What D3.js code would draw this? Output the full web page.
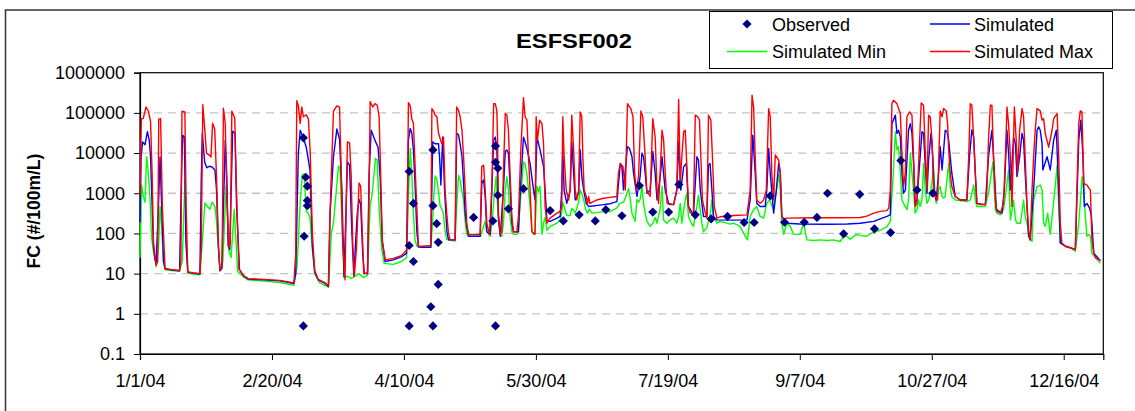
<!DOCTYPE html>
<html><head><meta charset="utf-8">
<script src="https://cdn.jsdelivr.net/npm/d3@7"></script>
<style>
body{margin:0;background:#fff}
svg{display:block}
text{font-family:"Liberation Sans",Arial,sans-serif;fill:#000}
</style>
</head><body>
<svg id="chart" width="1135" height="411"></svg>
<script>
const chartTitle = "ESFSF002";
const yAxisTitle = "FC (#/100m/L)";
const xTickLabels = ["1/1/04","2/20/04","4/10/04","5/30/04","7/19/04","9/7/04","10/27/04","12/16/04"];
const yTickValues = [0.1,1,10,100,1000,10000,100000,1000000];
const yTickLabels = ["0.1","1","10","100","1000","10000","100000","1000000"];
const seriesNames = ["Observed","Simulated","Simulated Min","Simulated Max"];

// [day of 2004 (0 = 1/1/04), FC value]
const observed = [[61.9,24000],[62.8,2500],[63.4,1500],[63.4,660],[63.4,490],[62.2,85],[61.9,0.5],
[102,3500],[102,50],[102,0.5],[103.6,560],[103.6,20],[111,12000],[111,490],[112.4,175],[113,60],[113,5.4],[110.2,1.5],[111,0.5],
[126.4,250],[133.7,205],[134.7,15000],[134.7,5900],[135.6,4200],[135.6,890],[134.7,0.5],[139.6,410],[145.3,1300],[155.4,370],
[160.4,205],[166.4,290],[172.5,205],[176.5,390],[182.6,275],[189.2,1550],[194.3,340],[200.3,340],[204.2,1650],[210.4,290],
[216.4,230],[222.6,265],[228.9,187],[232.7,187],[238.8,860],[244.2,190],[251.7,190],[256.5,250],[260.5,1000],[266.6,98],
[272.7,940],[278.3,130],[284.4,105],[288.3,6500],[294.4,1200],[300.4,1000]];

const simMax = [[0,900],[0.5,72000],[1.2,72000],[2.3,140000],[3.2,110000],[4,60000],[4.6,3000],[5.1,60],[6.1,16],[6.7,20],[7.1,70000],[7.8,72000],[8.5,400],[9.5,13],[12,12.6],[15,12],[15.5,20],[15.9,110000],[17,105000],[17.5,400],[18.1,11],[20,10.5],[22.7,10],[23.2,40],[23.8,160000],[24.4,50000],[25.2,10000],[26.2,9000],[26.9,8000],[27.5,55000],[28.3,40000],[29,2500],[29.7,50],[30.3,12.5],[31.1,14],[31.6,130000],[32.3,55000],[32.8,1500],[33.6,45],[34.2,55],[34.8,110000],[35.9,75000],[36.5,1500],[37.5,13],[39.2,9],[41,7.5],[47,7.2],[53,6.8],[58.3,5.9],[59,30],[59.4,200000],[60,150000],[60.7,55000],[61.3,140000],[61.9,80000],[63,90000],[63.8,70000],[64.5,10000],[65.3,100],[66.2,12],[67.5,7.2],[70,6],[71.4,5],[72,300],[73.3,110000],[74.6,150000],[75.6,140000],[76.1,8000],[76.8,60],[77.7,7],[78.2,1000],[78.6,19000],[79.4,18000],[80,3000],[80.6,60],[81.2,8.5],[82,40],[83,1800],[83.6,1500],[84.2,120],[84.8,10],[86.2,10.5],[86.8,1000],[87.2,190000],[88.2,140000],[89,170000],[89.9,155000],[90.6,80000],[91.1,5000],[91.8,70],[92.9,22],[96,24],[99,28],[101,38],[101.3,200],[101.7,180000],[102.4,150000],[103,70000],[103.6,55000],[104.6,1200],[105.5,48],[107,48],[110.2,50],[110.6,128000],[111.2,112000],[111.8,88000],[112.5,80000],[113.1,31000],[113.7,23000],[114.4,17000],[115,25000],[115.6,1200],[116.3,265],[116.9,100],[117.5,69],[119.4,69],[120,140000],[120.7,116000],[121.3,80000],[122,37000],[122.6,8100],[123.2,1200],[123.8,180],[124.5,95],[128.9,95],[129.5,4600],[130.2,5000],[130.8,1200],[131.4,180],[132.4,95],[133.3,1200],[134,170000],[134.6,170000],[135.2,116000],[135.5,21000],[135.8,320],[136.5,95],[137.1,110],[137.7,3200],[138.4,96000],[139,88000],[139.6,37000],[140.3,2150],[140.9,265],[141.5,110],[142.8,110],[143.4,265],[144.3,12000],[145.3,240000],[145.9,80000],[146.6,66000],[147.2,8100],[147.8,1200],[148.5,110],[149.7,95],[150.1,80000],[150.6,21000],[151.4,66000],[152.3,54000],[152.9,17000],[153.5,470],[154.2,180],[155.4,240],[158,320],[159.2,355],[159.8,470],[160.2,80000],[160.7,8100],[161.5,1200],[162.4,680],[163,1200],[163.6,88000],[164.3,12000],[164.9,1200],[165.5,680],[166.2,1200],[166.8,106000],[167.4,80000],[167.8,8100],[168.3,1200],[169.1,830],[169.6,560],[170,830],[170.5,560],[173.1,680],[175.6,750],[178.2,790],[180.7,830],[181.3,3200],[182,5500],[183,4600],[183.9,1200],[184.7,170000],[185.5,140000],[186,128000],[186.8,80000],[187.4,3200],[188,1200],[188.9,2600],[189.8,112000],[190.5,80000],[191.4,8100],[192,1200],[193.3,830],[194.3,72000],[195.2,25000],[195.9,1200],[196.5,560],[197.1,3200],[197.8,37000],[198.4,21000],[199,3200],[199.7,560],[200.9,520],[202.2,520],[203.4,1200],[204.1,215000],[204.7,1770],[205.3,8100],[206,34000],[206.6,37000],[207.2,4600],[207.8,470],[208.5,320],[209.7,320],[210.4,88000],[211.3,80000],[212,66000],[212.5,8100],[213.1,680],[214.2,320],[214.8,240],[215.4,88000],[216.3,66000],[216.9,8100],[217.6,470],[218.6,240],[219.8,260],[225,280],[230,290],[231.2,1200],[231.9,275000],[232.5,140000],[233.1,8100],[233.7,680],[235,560],[236.3,680],[237.3,1200],[238.2,128000],[238.8,80000],[239.4,3200],[240.1,680],[240.7,9000],[242,6700],[242.6,3200],[243.2,265],[243.9,230],[245.1,240],[255,245],[265,245],[272.9,250],[275.4,270],[278,320],[280.5,355],[283,370],[283.7,425],[284.3,1200],[284.9,170000],[285.5,206000],[286.8,170000],[288.1,96000],[288.7,10000],[289.3,1500],[290,3200],[290.6,80000],[291.6,106000],[292.5,88000],[293.1,8100],[293.7,470],[294.4,560],[296,177000],[296.9,155000],[297.5,12000],[298.2,1200],[298.8,88000],[299.4,80000],[300.1,21000],[300.7,1200],[301.3,830],[302.2,680],[302.7,8100],[303.2,112000],[303.9,80000],[304.5,128000],[305.5,112000],[306,54000],[306.4,12000],[307,3200],[307.6,1470],[308.9,830],[310.8,680],[313.3,680],[314,8100],[314.6,170000],[315.2,155000],[315.9,21000],[316.5,3200],[317.1,560],[318.4,520],[320.3,520],[320.9,1200],[321.5,21000],[322.2,155000],[322.8,155000],[323.4,8100],[324.1,680],[324.7,355],[326,320],[327.2,560],[327.9,8100],[328.5,140000],[329.1,54000],[329.8,8100],[330.4,470],[331.3,140000],[332,21000],[332.5,3200],[333.3,37000],[334.2,128000],[334.8,80000],[335.4,8100],[336.1,470],[336.7,120],[337.3,69],[338,1200],[338.6,8100],[339.2,37000],[339.9,128000],[341.1,112000],[341.8,66000],[342.4,72000],[343,31000],[344.3,14000],[345.6,37000],[346.2,72000],[347.5,96000],[348.1,8100],[348.7,180],[349.3,58],[350.6,48],[352.5,44],[354.4,40],[355,1200],[355.7,54000],[356.3,112000],[356.9,106000],[357.6,1770],[358.8,1600],[360.1,1200],[360.7,69],[361.4,32],[362,25],[363.9,21]];

const simulated = [[0,190],[0.4,8000],[1,19000],[1.9,16000],[2.8,34000],[3.5,21000],[4,8000],[4.4,1200],[5.1,48],[5.7,22],[6.1,18],[7,500],[7.6,8000],[8.2,500],[8.9,20],[9.5,13.5],[12,12.3],[15,11.8],[15.8,5000],[16.2,28000],[16.8,25000],[17.4,60],[18.1,10.8],[20,10.3],[22.7,9.8],[23.2,2000],[23.6,31000],[24.5,6000],[25.3,4300],[26.3,4700],[27.3,4500],[28.4,3800],[29,1200],[29.7,50],[30.3,12],[31,13],[32.3,21000],[32.9,2600],[33.4,50],[34,40],[35.1,35000],[36,31000],[36.6,450],[37.7,12.5],[39.2,8.8],[41,7.3],[47,7],[53,6.6],[58.3,5.7],[59,10],[60,10000],[60.7,37000],[61.9,24000],[63,14000],[64.4,3800],[65.3,50],[66.2,11],[67.5,7],[70,5.8],[71.4,4.8],[72,300],[73.3,8000],[74.6,40000],[75.6,22000],[76.5,1200],[77.3,8.5],[78.6,6000],[79.4,5000],[80.2,150],[81,9],[82.3,300],[83,700],[83.6,550],[84.4,30],[85,10],[86.2,10],[86.8,3000],[87.6,37000],[89,21000],[90.2,14000],[91,2500],[91.8,60],[92.9,20],[96,22],[99,26],[101,32],[101.7,21000],[102.4,41000],[103,31000],[103.6,12000],[104.2,1770],[104.9,110],[105.5,46],[107.4,45],[110.2,45],[110.9,19000],[111.8,17000],[113.1,17000],[113.5,8100],[114,1600],[114.7,25000],[115.4,1200],[116.3,110],[116.9,69],[119.4,69],[120,31000],[120.7,28000],[121.3,17000],[122,8100],[122.6,1770],[123.2,320],[123.8,150],[124.5,85],[128.9,85],[129.5,1770],[130.2,2150],[130.8,830],[131.4,110],[132.7,95],[133.3,1200],[134,21000],[134.6,25000],[135.2,14000],[135.8,265],[136.5,85],[137.7,1200],[138.4,11000],[139,12000],[139.6,10000],[140.3,1200],[140.9,180],[141.5,110],[143.4,110],[144.1,1200],[145.3,25000],[145.9,19000],[146.6,13000],[147.8,5500],[149.1,1200],[149.7,680],[150.4,25000],[151.6,12000],[152.9,4600],[153.5,1200],[154.2,200],[155.4,200],[158,240],[159.2,265],[159.8,1200],[160.2,12000],[160.7,1200],[161.7,560],[163,1200],[163.6,19000],[164.3,3200],[164.9,680],[166.2,1000],[166.8,12000],[167.4,2600],[168.1,1200],[169.1,560],[170,470],[175.6,520],[178.2,550],[180.7,620],[182,5500],[182.6,4600],[183.2,1200],[184.7,14500],[185.5,13000],[186.4,8100],[187,3200],[188.3,830],[189.5,2600],[190.2,10000],[190.8,8100],[191.4,3200],[192.1,1000],[193.3,1200],[194.3,11000],[195.2,3200],[195.9,680],[197.1,2600],[197.8,8100],[199,1200],[200.3,560],[202.2,520],[203.4,1200],[204.1,19000],[204.9,1200],[206,4600],[207,5500],[207.8,470],[209.7,290],[211,8100],[211.6,6700],[212.3,1200],[213.5,265],[214.8,265],[215.4,5000],[216,5500],[216.7,1200],[217.3,265],[218.6,217],[225,215],[230,217],[231.2,680],[232.2,28000],[233.1,3200],[233.7,560],[235,470],[236.9,470],[237.5,1200],[238.2,13000],[238.8,3200],[240.1,320],[241.1,1200],[242,5500],[242.6,3200],[243.2,265],[245.1,180],[250,172],[260,170],[268,172],[272.9,180],[278,200],[283,265],[284.3,290],[284.9,54000],[286.2,88000],[286.8,31000],[287.4,37000],[288.1,25000],[288.7,3200],[289.3,1000],[290,1200],[291.2,37000],[291.9,54000],[292.5,31000],[293.1,5500],[293.7,560],[294.4,680],[296.3,34000],[296.9,31000],[297.5,5500],[298.2,1000],[298.8,6700],[299.7,31000],[300.4,8100],[300.9,1200],[301.7,680],[302.6,3200],[303.2,14500],[303.9,3800],[305.1,37000],[305.8,34000],[306.4,21000],[307,8100],[307.6,3200],[308.9,830],[310.8,680],[313.3,680],[314.3,8100],[315.2,38000],[315.9,25000],[316.5,3200],[317.1,560],[320.3,520],[321.5,8100],[322.8,37000],[323.4,8100],[324.5,390],[326.6,320],[327.5,1200],[328.5,37000],[329.1,10000],[329.8,1200],[331,25000],[331.7,17000],[332.3,2600],[333.3,8100],[334.2,31000],[334.8,21000],[335.4,3200],[336.7,85],[337.3,69],[338.6,1200],[339.9,37000],[340.5,45000],[341.1,37000],[341.8,17000],[342.1,3800],[343.7,8100],[344.9,3800],[346.2,21000],[347.2,37000],[348.1,1200],[348.7,58],[350.6,48],[354.4,40],[355.7,21000],[356.5,66000],[357.3,8100],[357.8,470],[358.8,560],[359.8,425],[360.5,265],[361.4,32],[363.9,21]];

const simMin = [[0,25],[0.6,1600],[1.3,800],[1.9,600],[2.5,8100],[3.2,3000],[3.8,700],[4.4,80],[5.1,35],[5.7,22],[6.1,15],[7,40],[7.6,470],[8.2,150],[8.9,20],[9.5,12.5],[12,12],[15,11.5],[16,20],[16.7,500],[17.1,2200],[17.6,50],[18.2,10.3],[20,9.8],[22.7,9.4],[23.4,40],[24.6,580],[25.5,470],[26.5,400],[27.3,600],[28.4,470],[29,200],[29.7,40],[30.3,11.5],[31.4,20],[32.6,1500],[33.1,320],[33.6,40],[34.5,25],[35.7,400],[36.2,100],[37,11.5],[39.2,8.3],[41,7],[47,6.5],[53,6],[58.3,5.1],[59.5,15],[60.7,600],[61.5,2900],[62.2,3000],[63,350],[63.6,330],[64.4,250],[65.3,40],[66.2,10],[68,6],[71.4,4.6],[72.5,100],[73.3,180],[75.2,4800],[75.8,4000],[76.5,200],[77.3,8],[78.6,8.6],[80,7.5],[82,9],[83,10],[84.7,8],[86.2,9],[87.2,500],[88,1000],[89.2,7400],[89.9,6700],[90.6,400],[91.6,40],[92.5,18],[96,17],[99,20],[101,25],[101.7,800],[102.4,13000],[103,3000],[103.6,320],[104.2,70],[104.9,48],[106,47],[110.2,47],[110.9,200],[111.2,600],[111.8,2700],[112.5,2200],[113.1,1100],[113.7,500],[114.4,400],[115,300],[115.6,110],[116.3,70],[117.5,68],[119.4,65],[120,500],[120.7,2800],[121.3,2200],[122,1100],[122.6,700],[123.2,200],[123.8,95],[124.5,85],[129,85],[129.5,110],[130.8,200],[131.4,110],[132.7,85],[133.3,180],[134.3,1000],[134.9,2600],[135.8,200],[136.5,95],[137.1,85],[137.7,180],[138.4,1200],[139,2600],[139.6,1200],[140.3,220],[140.9,110],[141.5,95],[142.8,95],[143.4,130],[144.1,600],[145.3,6000],[145.9,5500],[146.6,3000],[147.2,1200],[147.8,470],[148.5,110],[149.1,95],[149.7,120],[150.4,1500],[151,1100],[151.6,1500],[152.3,95],[152.9,180],[153.5,250],[154.2,120],[155.4,150],[158,180],[159.2,220],[159.8,320],[160.2,600],[160.7,470],[161.7,280],[163,280],[163.6,420],[164.3,380],[164.9,320],[166.2,600],[166.8,1200],[167.4,1000],[168.1,700],[168.8,400],[169.6,320],[170.2,400],[171.3,320],[173.1,330],[175.6,350],[178.2,350],[180.7,430],[181.8,560],[183.2,600],[184,800],[185.1,1300],[185.8,700],[186.4,320],[187.6,200],[188.3,700],[188.9,600],[189.5,700],[190.2,1500],[190.8,560],[191.4,320],[192.1,200],[193.3,150],[194.3,180],[195.2,250],[195.9,180],[196.5,280],[197.1,400],[197.8,1500],[198.4,217],[199.6,180],[200.9,217],[202.2,240],[203.4,180],[204.1,265],[204.7,560],[205.3,180],[206.6,680],[207.2,1000],[207.8,265],[209.1,170],[209.7,150],[211,470],[211.6,900],[212.3,390],[212.9,180],[213.5,110],[214.8,140],[216,290],[216.7,680],[217.3,265],[218.6,180],[219.8,200],[222.4,180],[223.6,170],[224.9,180],[227.4,150],[229.3,85],[230.2,69],[231.2,265],[232.5,390],[233.7,470],[235,265],[236.3,240],[237.5,560],[238.5,680],[240.1,390],[242,2900],[242.6,1200],[243.2,180],[243.9,95],[245.1,180],[246.4,150],[247.6,95],[250.2,95],[251.4,180],[252.7,69],[255.2,67],[257.8,69],[260.3,67],[262.8,69],[265.3,63],[266.6,85],[267.9,85],[269.1,72],[270.4,85],[271.6,95],[272.9,88],[275.4,85],[278,110],[280.5,120],[283,148],[284.3,200],[285.5,3800],[286.2,34000],[286.8,12000],[287.4,14500],[288.1,3200],[288.7,680],[289.3,560],[290.6,390],[291.2,680],[291.9,10000],[292.5,3200],[293.1,1200],[293.7,320],[294.4,390],[295,680],[295.6,470],[296.3,680],[296.9,5500],[297.5,1200],[298.2,560],[298.8,680],[299.7,1200],[300.7,4200],[301.3,830],[301.7,560],[302.6,1200],[303.2,1470],[303.9,830],[304.5,760],[305.1,830],[305.8,2400],[306.4,5500],[307,1470],[307.6,830],[308.9,680],[313.3,620],[314.6,680],[315.2,1000],[315.9,1600],[316.5,680],[317.1,470],[320.3,470],[321.5,1000],[323.2,6100],[323.7,1200],[324.1,390],[324.7,320],[326,290],[327.2,390],[327.9,830],[329.1,3800],[329.8,217],[331,680],[331.7,217],[332.3,180],[333.6,180],[334.8,680],[335.4,265],[336.1,180],[336.7,95],[338,63],[338.6,680],[339.9,1470],[341.1,1600],[341.8,1200],[342.4,180],[343,150],[343.9,320],[344.9,95],[346.8,1500],[347.5,5000],[348.1,470],[348.7,58],[350.6,48],[352.5,44],[354.4,36],[355.7,180],[357,2600],[357.6,1200],[358.2,265],[358.8,85],[359.5,95],[360.1,85],[360.7,32],[361.4,28],[363.9,18]];

const svg = d3.select("#chart");
const plot = {left:140, right:1103.3, top:72.7, bottom:354};
const t0 = Date.UTC(2004,0,1);
const dayToDate = d => new Date(t0 + d*86400000);
const parseLabel = s => { const [m,d,y] = s.split("/").map(Number); return new Date(Date.UTC(2000+y, m-1, d)); };

const x = d3.scaleUtc().domain([dayToDate(0), dayToDate(365)]).range([plot.left, plot.right]);
const y = d3.scaleLog().domain([0.1, 1000000]).range([plot.bottom, plot.top]);

// outer chart border
svg.append("rect").attr("x",5.5).attr("y",10).attr("width",1200).attr("height",500)
  .attr("fill","none").attr("stroke","#333").attr("stroke-width",1.5);

// gridlines
svg.append("g").selectAll("line").data(yTickValues.slice(1,-1)).join("line")
  .attr("x1",plot.left).attr("x2",plot.right)
  .attr("y1",d=>y(d)).attr("y2",d=>y(d))
  .attr("stroke","#c4c4c4").attr("stroke-width",1.3).attr("stroke-dasharray","8,6");

// plot frame
svg.append("rect").attr("x",plot.left).attr("y",plot.top)
  .attr("width",plot.right-plot.left).attr("height",plot.bottom-plot.top)
  .attr("fill","none").attr("stroke","#000").attr("stroke-width",1.2);

// axes
const yAxis = d3.axisLeft(y).tickValues(yTickValues).tickFormat((d,i)=>yTickLabels[i]).tickSize(6).tickPadding(9);
const gy = svg.append("g").attr("transform",`translate(${plot.left},0)`).call(yAxis);
gy.select(".domain").attr("stroke","#000").attr("stroke-width",1.2);
gy.selectAll(".tick line").attr("stroke","#000");
gy.selectAll("text").attr("font-size",18).attr("font-family","Liberation Sans, Arial, sans-serif");

const xTickDates = xTickLabels.map(parseLabel);
const xAxis = d3.axisBottom(x).tickValues(xTickDates).tickFormat((d,i)=>xTickLabels[i]).tickSize(6).tickPadding(14);
const gx = svg.append("g").attr("transform",`translate(0,${plot.bottom})`).call(xAxis);
gx.select(".domain").attr("stroke","#000").attr("stroke-width",1.2);
gx.selectAll(".tick line").attr("stroke","#000");
gx.selectAll("text").attr("font-size",18).attr("font-family","Liberation Sans, Arial, sans-serif");

// lines
const line = d3.line().x(d=>x(dayToDate(d[0]))).y(d=>y(d[1]));
const lineSeries = [{data:simMin,color:"#00ff00"},{data:simulated,color:"#0000ff"},{data:simMax,color:"#ff0000"}];
svg.append("g").selectAll("path").data(lineSeries).join("path")
  .attr("d",s=>line(s.data)).attr("fill","none").attr("stroke",s=>s.color)
  .attr("stroke-width",1.4).attr("stroke-linejoin","round");

// observed diamonds
const diamond = d3.symbol().type(d3.symbolSquare).size(42);
svg.append("g").selectAll("path").data(observed).join("path")
  .attr("d",diamond)
  .attr("transform",d=>`translate(${x(dayToDate(d[0]))},${y(d[1])}) rotate(45)`)
  .attr("fill","#000080");

// title
svg.append("text").attr("x",574).attr("y",47.5).attr("text-anchor","middle")
  .attr("font-size",21).attr("font-weight","bold")
  .attr("textLength",116).attr("lengthAdjust","spacingAndGlyphs").text(chartTitle);

// y-axis title
svg.append("text").attr("transform","translate(40,211) rotate(-90)").attr("text-anchor","middle")
  .attr("font-size",17.5).attr("font-weight","bold").text(yAxisTitle);

// legend
const lg = svg.append("g");
lg.append("rect").attr("x",709.5).attr("y",11.5).attr("width",403).attr("height",57)
  .attr("fill","#fff").attr("stroke","#000").attr("stroke-width",1);
const legendItems = [
  {name:seriesNames[0], type:"marker", color:"#000080", sx:747, tx:772, cy:24},
  {name:seriesNames[1], type:"line", color:"#0000ff", sx:930, tx:974, cy:24},
  {name:seriesNames[2], type:"line", color:"#00ff00", sx:727, tx:772, cy:51.5},
  {name:seriesNames[3], type:"line", color:"#ff0000", sx:930, tx:974, cy:51.5}
];
legendItems.forEach(it=>{
  if(it.type==="line"){
    lg.append("line").attr("x1",it.sx).attr("x2",it.sx+40).attr("y1",it.cy).attr("y2",it.cy)
      .attr("stroke",it.color).attr("stroke-width",1.4);
  } else {
    lg.append("path").attr("d",diamond).attr("transform",`translate(${it.sx},${it.cy}) rotate(45)`).attr("fill",it.color);
  }
  lg.append("text").attr("x",it.tx).attr("y",it.cy+6.5).attr("font-size",18).text(it.name);
});
</script>
</body></html>
